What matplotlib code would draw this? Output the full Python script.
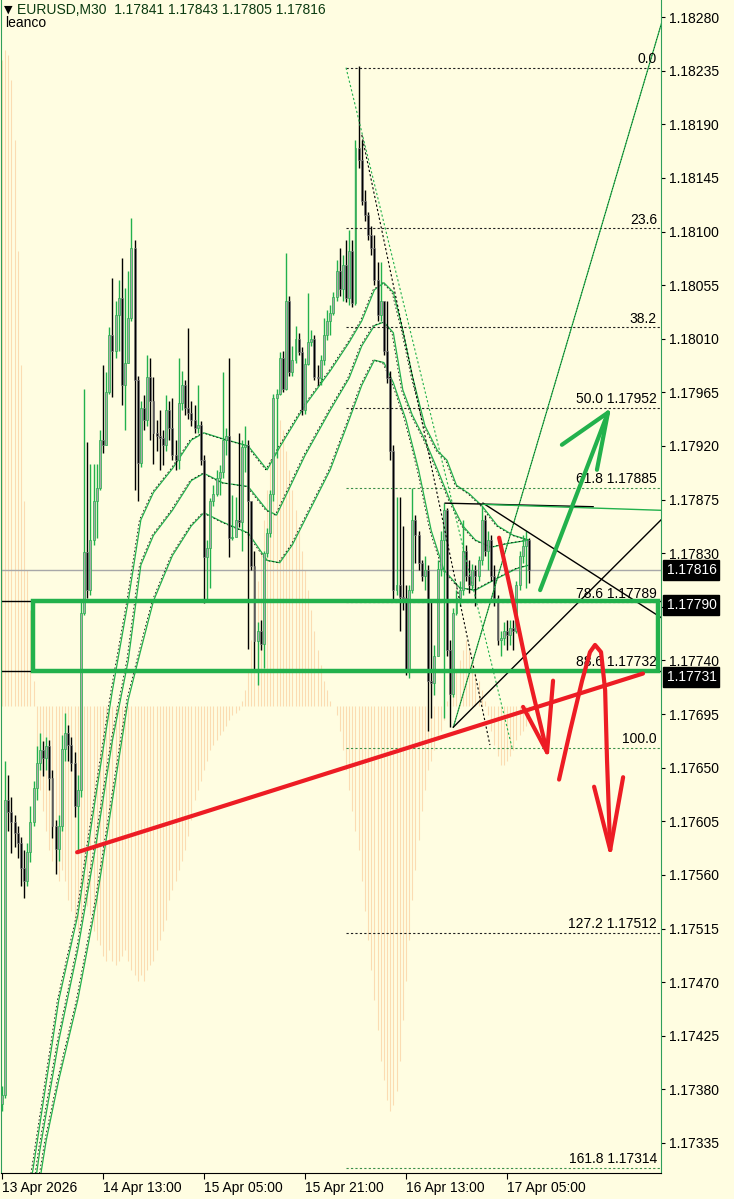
import numpy as np
import matplotlib
matplotlib.use("Agg")
from matplotlib import pyplot as plt
from matplotlib.patches import Rectangle

plt.rcParams["font.family"] = ["Liberation Sans", "DejaVu Sans"]

# ---------------- data ----------------
symbol = "EURUSD,M30"
broker = "leanco"

first_open = 1.17368
bar_close = [1.17375, 1.17623, 1.17613, 1.17604, 1.17595, 1.17587, 1.17566, 1.17555, 1.17579, 1.17604,
             1.17633, 1.17654, 1.17665, 1.17658, 1.17668, 1.17641, 1.17601, 1.17582, 1.17601, 1.17666,
             1.17679, 1.17669, 1.17654, 1.17618, 1.17631, 1.17780, 1.17831, 1.17799, 1.17841, 1.17874,
             1.17885, 1.17925, 1.17921, 1.17965, 1.18013, 1.18000, 1.18030, 1.18044, 1.17971, 1.17990,
             1.18027, 1.18086, 1.17975, 1.17906, 1.17952, 1.17942, 1.17978, 1.17958, 1.17931, 1.17928,
             1.17927, 1.17921, 1.17950, 1.17935, 1.17912, 1.17908, 1.17956, 1.17971, 1.17952, 1.17948,
             1.17942, 1.17935, 1.17938, 1.17908, 1.17827, 1.17834, 1.17874, 1.17880, 1.17893, 1.17898,
             1.17925, 1.17928, 1.17843, 1.17844, 1.17858, 1.17856, 1.17919, 1.17921, 1.17874, 1.17819,
             1.17756, 1.17765, 1.17754, 1.17830, 1.17847, 1.17880, 1.17960, 1.17964, 1.17994, 1.17968,
             1.18042, 1.17982, 1.17992, 1.18010, 1.17999, 1.17950, 1.17989, 1.18007, 1.18010, 1.17978,
             1.17977, 1.17992, 1.18013, 1.18025, 1.18032, 1.18045, 1.18067, 1.18052, 1.18072, 1.18044,
             1.18084, 1.18040, 1.18170, 1.18160, 1.18126, 1.18114, 1.18097, 1.18086, 1.18059, 1.18030,
             1.18042, 1.18000, 1.17977, 1.17916, 1.17799, 1.17803, 1.17793, 1.17792, 1.17732, 1.17799,
             1.17858, 1.17845, 1.17822, 1.17811, 1.17816, 1.17723, 1.17721, 1.17744, 1.17817, 1.17841,
             1.17866, 1.17749, 1.17712, 1.17780, 1.17792, 1.17799, 1.17832, 1.17811, 1.17803, 1.17816,
             1.17811, 1.17824, 1.17858, 1.17832, 1.17841, 1.17811, 1.17792, 1.17757, 1.17759, 1.17765,
             1.17761, 1.17767, 1.17765, 1.17803, 1.17828, 1.17836, 1.17841, 1.17816]
bar_high = [1.17383, 1.17656, 1.17644, 1.17625, 1.17610, 1.17601, 1.17592, 1.17581, 1.17587, 1.17618,
            1.17639, 1.17668, 1.17679, 1.17672, 1.17676, 1.17673, 1.17648, 1.17606, 1.17610, 1.17677,
            1.17696, 1.17686, 1.17676, 1.17663, 1.17644, 1.17790, 1.17968, 1.17923, 1.17905, 1.17905,
            1.17905, 1.17933, 1.17988, 1.17982, 1.18020, 1.18061, 1.18042, 1.18059, 1.18078, 1.18053,
            1.18067, 1.18111, 1.18093, 1.17979, 1.17958, 1.17963, 1.17996, 1.17994, 1.17978, 1.17942,
            1.17950, 1.17933, 1.17963, 1.17958, 1.17960, 1.17925, 1.17994, 1.17983, 1.17975, 1.18019,
            1.17958, 1.17954, 1.17971, 1.17941, 1.17912, 1.17841, 1.17876, 1.17887, 1.17900, 1.17904,
            1.17982, 1.17935, 1.17994, 1.17879, 1.17877, 1.17931, 1.17925, 1.17937, 1.17925, 1.17874,
            1.17832, 1.17772, 1.17774, 1.17832, 1.17851, 1.17883, 1.17964, 1.17968, 1.17999, 1.18000,
            1.18082, 1.18046, 1.18004, 1.18021, 1.18015, 1.18003, 1.17994, 1.18048, 1.18017, 1.18013,
            1.17988, 1.17996, 1.18027, 1.18034, 1.18038, 1.18049, 1.18076, 1.18086, 1.18080, 1.18093,
            1.18101, 1.18093, 1.18177, 1.18239, 1.18177, 1.18135, 1.18116, 1.18105, 1.18097, 1.18074,
            1.18074, 1.18042, 1.18042, 1.17983, 1.17921, 1.17877, 1.17877, 1.17853, 1.17803, 1.17803,
            1.17885, 1.17862, 1.17849, 1.17824, 1.17828, 1.17820, 1.17790, 1.17753, 1.17824, 1.17849,
            1.17872, 1.17868, 1.17757, 1.17784, 1.17799, 1.17807, 1.17858, 1.17837, 1.17824, 1.17821,
            1.17820, 1.17828, 1.17870, 1.17862, 1.17849, 1.17845, 1.17820, 1.17795, 1.17765, 1.17772,
            1.17774, 1.17774, 1.17774, 1.17807, 1.17832, 1.17845, 1.17849, 1.17843]
bar_low = [1.17362, 1.17373, 1.17597, 1.17578, 1.17583, 1.17574, 1.17551, 1.17541, 1.17551, 1.17571,
           1.17601, 1.17623, 1.17648, 1.17643, 1.17648, 1.17631, 1.17591, 1.17561, 1.17572, 1.17597,
           1.17656, 1.17656, 1.17647, 1.17609, 1.17579, 1.17625, 1.17778, 1.17792, 1.17795, 1.17837,
           1.17843, 1.17883, 1.17914, 1.17921, 1.17964, 1.17961, 1.17994, 1.18000, 1.17954, 1.17933,
           1.17990, 1.18025, 1.17883, 1.17874, 1.17902, 1.17933, 1.17937, 1.17925, 1.17905, 1.17916,
           1.17900, 1.17904, 1.17916, 1.17925, 1.17908, 1.17900, 1.17901, 1.17950, 1.17946, 1.17943,
           1.17937, 1.17931, 1.17931, 1.17904, 1.17788, 1.17790, 1.17801, 1.17870, 1.17878, 1.17879,
           1.17893, 1.17912, 1.17827, 1.17841, 1.17853, 1.17852, 1.17832, 1.17898, 1.17750, 1.17816,
           1.17732, 1.17719, 1.17749, 1.17734, 1.17827, 1.17844, 1.17874, 1.17910, 1.17963, 1.17965,
           1.17967, 1.17979, 1.17979, 1.17990, 1.17996, 1.17946, 1.17947, 1.17988, 1.18004, 1.17975,
           1.17971, 1.17971, 1.17988, 1.18009, 1.18013, 1.18030, 1.18042, 1.18046, 1.18042, 1.18041,
           1.18038, 1.18037, 1.18038, 1.18153, 1.18122, 1.18109, 1.18093, 1.18080, 1.18055, 1.18025,
           1.18025, 1.17996, 1.17973, 1.17908, 1.17790, 1.17795, 1.17765, 1.17782, 1.17728, 1.17725,
           1.17797, 1.17822, 1.17816, 1.17807, 1.17799, 1.17681, 1.17692, 1.17711, 1.17744, 1.17811,
           1.17692, 1.17744, 1.17684, 1.17709, 1.17778, 1.17786, 1.17795, 1.17807, 1.17797, 1.17799,
           1.17786, 1.17807, 1.17820, 1.17828, 1.17816, 1.17807, 1.17786, 1.17753, 1.17744, 1.17753,
           1.17749, 1.17753, 1.17749, 1.17763, 1.17799, 1.17822, 1.17801, 1.17805]

# histogram indicator drawn on the price window (bar end values, zero line at hist_base)
hist_base = 1.17702
hist_val = [1.18244, 1.18252, 1.18248, 1.18227, 1.18177, 1.18084, 1.17988, 1.17874, 1.17816, 1.17782, 1.17723,
            1.17656, 1.17631, 1.17614, 1.17597, 1.17581, 1.17572, 1.17564, 1.17555, 1.17564, 1.17555,
            1.17539, 1.17530, 1.17522, 1.17513, 1.17522, 1.17539, 1.17534, 1.17526, 1.17513, 1.17505,
            1.17501, 1.17492, 1.17488, 1.17497, 1.17488, 1.17484, 1.17488, 1.17492, 1.17497, 1.17488,
            1.17480, 1.17476, 1.17471, 1.17476, 1.17471, 1.17480, 1.17484, 1.17488, 1.17497, 1.17505,
            1.17513, 1.17522, 1.17539, 1.17547, 1.17555, 1.17564, 1.17572, 1.17581, 1.17593, 1.17606,
            1.17623, 1.17631, 1.17639, 1.17648, 1.17656, 1.17665, 1.17669, 1.17673, 1.17677, 1.17681,
            1.17685, 1.17690, 1.17694, 1.17696, 1.17698,
            1.17706, 1.17715, 1.17732, 1.17757, 1.17782, 1.17807, 1.17832, 1.17858, 1.17883, 1.17908,
            1.17925, 1.17942, 1.17942, 1.17933, 1.17916, 1.17900, 1.17883, 1.17866, 1.17849, 1.17832,
            1.17816, 1.17799, 1.17782, 1.17765, 1.17749, 1.17736, 1.17723, 1.17715, 1.17706, 1.17702,
            1.17694, 1.17681, 1.17665, 1.17648, 1.17631, 1.17614, 1.17597, 1.17581, 1.17555, 1.17530,
            1.17505, 1.17480, 1.17455, 1.17430, 1.17404, 1.17388, 1.17371, 1.17362, 1.17367, 1.17379,
            1.17404, 1.17438, 1.17471, 1.17505, 1.17539, 1.17564, 1.17589, 1.17614, 1.17631, 1.17648,
            1.17656, 1.17665, 1.17673, 1.17681, 1.17690,
            1.17706, 1.17715, 1.17723, 1.17732, 1.17740, 1.17749, 1.17757, 1.17749, 1.17740, 1.17732,
            1.17723, 1.17715, 1.17706,
            1.17694, 1.17681, 1.17669, 1.17660, 1.17652, 1.17652, 1.17656, 1.17660, 1.17665, 1.17673,
            1.17677, 1.17681, 1.17685, 1.17690]

# three moving averages, read at these bars
ma_fast_bar = [0, 10, 18, 24, 30, 35, 40, 44, 48, 54, 60, 64, 70, 78, 84, 88, 96, 104, 110, 114,
               118, 121, 124, 127, 130, 134, 138, 141, 144, 148, 152, 157, 162, 167]
ma_fast = [1.17148, 1.17316, 1.17455, 1.17526, 1.17631, 1.17715, 1.17790, 1.17858, 1.17881, 1.17901,
           1.17925, 1.17931, 1.17926, 1.17920, 1.17900, 1.17919, 1.17954, 1.17983, 1.18007, 1.18025,
           1.18051, 1.18057, 1.18049, 1.18017, 1.17979, 1.17937, 1.17916, 1.17908, 1.17887, 1.17880,
           1.17870, 1.17853, 1.17845, 1.17841]
ma_mid_bar = [0, 10, 12, 18, 24, 30, 35, 40, 44, 48, 54, 60, 64, 70, 78, 84, 87, 96, 104, 110,
              114, 118, 121, 124, 127, 130, 134, 138, 142, 146, 150, 155, 160, 167]
ma_mid = [1.17127, 1.17291, 1.17329, 1.17421, 1.17497, 1.17589, 1.17673, 1.17740, 1.17820, 1.17845,
          1.17866, 1.17891, 1.17897, 1.17889, 1.17886, 1.17866, 1.17862, 1.17912, 1.17950, 1.17977,
          1.18004, 1.18021, 1.18024, 1.18015, 1.17967, 1.17946, 1.17925, 1.17900, 1.17874, 1.17853,
          1.17841, 1.17835, 1.17838, 1.17841]
ma_slow_bar = [0, 12, 14, 18, 24, 30, 35, 40, 44, 48, 54, 60, 64, 70, 78, 84, 88, 92, 96, 104,
               110, 114, 118, 121, 124, 128, 132, 136, 140, 145, 150, 157, 163, 167]
ma_slow = [1.17094, 1.17304, 1.17337, 1.17388, 1.17455, 1.17539, 1.17623, 1.17707, 1.17749, 1.17790,
           1.17828, 1.17853, 1.17864, 1.17856, 1.17847, 1.17824, 1.17822, 1.17837, 1.17858, 1.17900,
           1.17942, 1.17971, 1.17992, 1.17990, 1.17973, 1.17942, 1.17900, 1.17849, 1.17816, 1.17801,
           1.17799, 1.17809, 1.17817, 1.17820]

# fibonacci retracement
fib_high = 1.182375
fib_low = 1.176668
fib_bars = [109, 161.6]
fib_levels = [0.0, 23.6, 38.2, 50.0, 61.8, 78.6, 88.6, 100.0, 127.2, 161.8]
fib_show_price = [False, False, False, True, True, True, True, False, True, True]
fib_green = [False, False, False, False, True, False, False, True, False, True]

# hand drawn objects, (bar, price)
box_bars = [9.8, 207.9]
box_prices = [1.17731, 1.17790]
red_trend = [(23.8, 1.17579), (203.1, 1.17729)]
tri_green_up = [(143, 1.17684), (209.2, 1.18277)]
tri_black_up = [(143, 1.17684), (209.2, 1.17859)]
tri_black_down = [(152.4, 1.17872), (208.8, 1.17776)]
tri_top_black = [(140.4, 1.17872), (187.3, 1.17869)]
tri_top_green = [(152.4, 1.17871), (208.8, 1.17866)]
peak_dotted = [(114, 1.18181), (154.6, 1.17669)]
red_arrow1 = [(157.5, 1.17843), (161.9, 1.17790), (166.3, 1.17734), (172.7, 1.17663)]
red_arrow1_barbs = [(165.1, 1.17701), (174.6, 1.17723)]
red_arrow2 = [(176.5, 1.17640), (180.0, 1.17681), (183.8, 1.17723), (186.3, 1.17747), (187.9, 1.17753),
              (189.8, 1.17747), (191.1, 1.17715), (191.7, 1.17656), (192.7, 1.17581)]
red_arrow2_barbs = [(187.6, 1.17634), (196.8, 1.17642)]
green_arrow = [(170.5, 1.17799), (192.0, 1.17948)]
green_arrow_barbs = [(177.4, 1.17921), (188.5, 1.17900)]

time_ticks = [0, 32, 64, 96, 128, 160]
time_labels = ["13 Apr 2026", "14 Apr 13:00", "15 Apr 05:00", "15 Apr 21:00", "16 Apr 13:00", "17 Apr 05:00"]
price_ticks = [1.17335 + 0.00045 * k for k in range(22)]

# ---------------- colours ----------------
bg = "#fffde1"
paint_green = "#22b14c"
paint_red = "#ed1c24"
frame_green = "#2f9f5a"
hist_col = "#fbdcb2"

fig = plt.figure(figsize=(7.34, 11.99), dpi=100, facecolor=bg)
ax = fig.add_axes([1 / 734, 26 / 1199, 660 / 734, 1173 / 1199])
ax.set_facecolor(bg)
ax.set_xlim(-0.317, 208.8)
ax.set_ylim(1.173098, 1.182943)

n = len(bar_close)
idx = np.arange(n)
bar_open = [first_open] + bar_close[:-1]

# histogram
ax.vlines(idx, hist_base, hist_val, color=hist_col, lw=0.8, zorder=1)

# horizontal lines: current bid and the two zone levels
ax.axhline(bar_close[-1], color="#a8a8a8", lw=1.0, zorder=2)
ax.axhline(box_prices[1], color="black", lw=1.0, zorder=2)
ax.axhline(box_prices[0], color="black", lw=1.0, zorder=2)

# moving averages (green line with a fine black dotted twin)
for mb, mv in [(ma_fast_bar, ma_fast), (ma_mid_bar, ma_mid), (ma_slow_bar, ma_slow)]:
    ax.plot(mb, mv, color=paint_green, lw=0.9, zorder=3)
    ax.plot(np.array(mb) - 0.45, mv, color="black", lw=0.55, ls=(0, (2, 3)), zorder=3)

# candles
for i in range(n):
    o, c = bar_open[i], bar_close[i]
    up = c >= o
    wick = paint_green if up else "black"
    ax.vlines(i, bar_low[i], bar_high[i], color=wick, lw=1.0, zorder=4)
    ax.bar(i, abs(c - o), bottom=min(o, c), width=0.62,
           color="#a8a8a8" if up else "black",
           edgecolor=paint_green if up else "#808080", lw=0.5, zorder=4)

# fibonacci
rng = fib_high - fib_low
for lev, show, grn in zip(fib_levels, fib_show_price, fib_green):
    p = fib_high - rng * lev / 100.0
    ax.plot([fib_bars[0], 208.8], [p, p], color="#3a8f4a" if grn else "#202020",
            lw=0.8, ls=(0, (2, 2)), zorder=5)
    txt = "%.1f" % lev
    if show:
        txt += " %.5f" % p
    ax.text(207.5, p + 0.000012, txt, ha="right", va="bottom", fontsize=10, zorder=6)
ax.plot(fib_bars, [fib_high, fib_low], color=paint_green, lw=0.8, ls=(0, (2, 2)), zorder=5)
ax.plot(*zip(*peak_dotted), color="black", lw=0.8, ls=(0, (2, 2)), zorder=5)

# triangle / trend lines
ax.plot(*zip(*tri_green_up), color=paint_green, lw=0.9, zorder=5)
ax.plot(*zip(*tri_green_up), color="black", lw=0.5, ls=(0, (1, 3)), zorder=5)
ax.plot(*zip(*tri_black_up), color="black", lw=1.0, zorder=5)
ax.plot(*zip(*tri_black_down), color="black", lw=1.0, zorder=5)
ax.plot(*zip(*tri_top_black), color="black", lw=1.0, zorder=5)
ax.plot(*zip(*tri_top_green), color=paint_green, lw=1.0, zorder=5)

# zone box
ax.add_patch(Rectangle((box_bars[0], box_prices[0]), box_bars[1] - box_bars[0],
                       box_prices[1] - box_prices[0], fill=False,
                       edgecolor=paint_green, lw=3.2, zorder=6))

# red / green drawings
ax.plot(*zip(*red_trend), color=paint_red, lw=3.0, solid_capstyle="round", zorder=7)
ax.plot(*zip(*red_arrow1), color=paint_red, lw=3.0, solid_capstyle="round", zorder=7)
for b in red_arrow1_barbs:
    ax.plot([b[0], red_arrow1[-1][0]], [b[1], red_arrow1[-1][1]], color=paint_red, lw=3.0,
            solid_capstyle="round", zorder=7)
ax.plot(*zip(*red_arrow2), color=paint_red, lw=3.0, solid_capstyle="round", zorder=7)
for b in red_arrow2_barbs:
    ax.plot([b[0], red_arrow2[-1][0]], [b[1], red_arrow2[-1][1]], color=paint_red, lw=3.0,
            solid_capstyle="round", zorder=7)
ax.plot(*zip(*green_arrow), color=paint_green, lw=3.0, solid_capstyle="round", zorder=7)
for b in green_arrow_barbs:
    ax.plot([b[0], green_arrow[-1][0]], [b[1], green_arrow[-1][1]], color=paint_green, lw=3.0,
            solid_capstyle="round", zorder=7)

# axes cosmetics
for s in ["left", "right"]:
    ax.spines[s].set_color(frame_green)
ax.spines["top"].set_visible(False)
ax.spines["bottom"].set_color("black")
ax.yaxis.tick_right()
ax.set_yticks(price_ticks)
# the 1.17785 label sits under the 1.17790 price tag, as on the terminal
ylabels = ["" if abs(p - 1.17785) < 1e-7 else "%.5f" % p for p in price_ticks]
ax.set_yticklabels(ylabels, fontsize=10)
ax.tick_params(axis="y", length=3, pad=3, colors="black")
ax.set_xticks(time_ticks)
ax.set_xticklabels(time_labels, ha="left", fontsize=10)
ax.tick_params(axis="x", length=4, pad=2)

# price tags on the right scale
for p, off in [(bar_close[-1], 0), (box_prices[1], -3), (box_prices[0], -4)]:
    ax.annotate("%.5f" % p, xy=(1.0, p), xycoords=("axes fraction", "data"),
                xytext=(4, off), textcoords="offset points", ha="left", va="center",
                fontsize=10, color="white",
                bbox=dict(boxstyle="square,pad=0.22", fc="black", ec="black"),
                annotation_clip=False, zorder=10)

# header
ohlc = "%.5f %.5f %.5f %.5f" % (bar_open[-1], bar_high[-1], bar_low[-1], bar_close[-1])
fig.text(4 / 734, 1 - 13 / 1199, "\u25bc", fontsize=8, color="black", family=["DejaVu Sans"])
fig.text(17 / 734, 1 - 14 / 1199, symbol + "  " + ohlc, fontsize=10, color="#0a3a10")
fig.text(5 / 734, 1 - 27 / 1199, broker, fontsize=10, color="black")

plt.savefig("out.png", dpi=100, facecolor=bg)
